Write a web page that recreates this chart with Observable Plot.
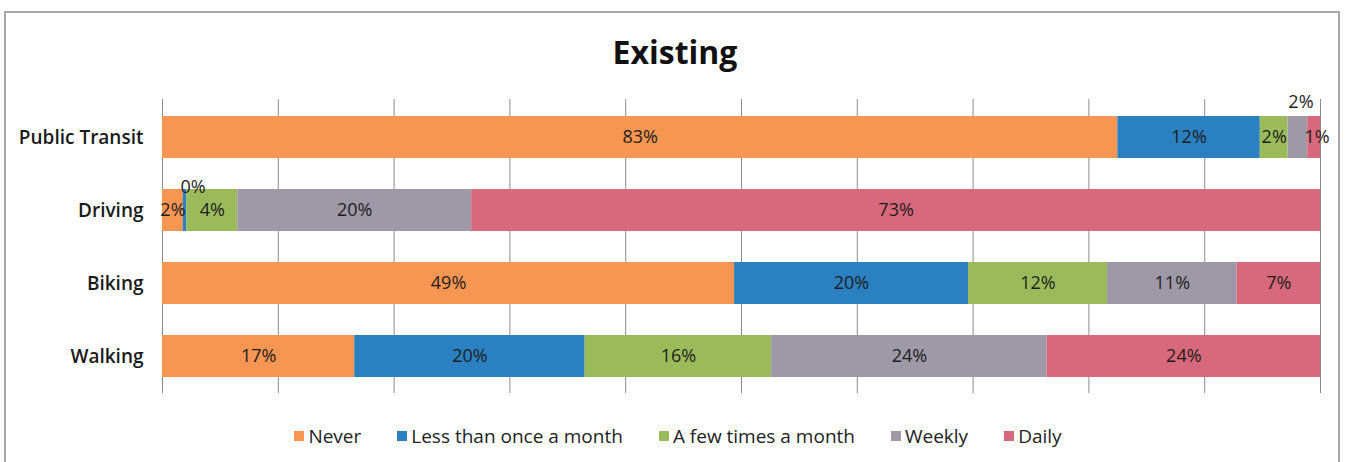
<!DOCTYPE html>
<html>
<head>
<meta charset="utf-8">
<script src="https://cdn.jsdelivr.net/npm/d3@7"></script>
<script src="https://cdn.jsdelivr.net/npm/@observablehq/plot@0.6"></script>
<style>
  html, body { margin: 0; padding: 0; background: #fff; width: 1345px; height: 462px; overflow: hidden; font-family: "Open Sans", sans-serif; }
  #frame { position: absolute; left: 4px; top: 11px; width: 1336px; height: 470px; border: 2px solid #a8a8a8; box-sizing: border-box; }
  #title { position: absolute; left: 0; top: 30px; width: 1350px; text-align: center; font-size: 32px; font-weight: 700; line-height: 44px; color: #111; }
  #chart { position: absolute; left: 0; top: 90px; }
  #legend { position: absolute; left: 0; top: 423px; width: 1356px; display: flex; justify-content: center; gap: 36px; font-size: 19px; line-height: 26px; color: #222; }
  .item { display: flex; align-items: center; }
  .sw { width: 10px; height: 10px; margin-right: 4px; }
</style>
</head>
<body>
<div id="frame"></div>
<div id="title">Existing</div>
<div id="chart"></div>
<div id="legend"></div>
<script>
const categories = ["Public Transit", "Driving", "Biking", "Walking"];
const series = ["Never", "Less than once a month", "A few times a month", "Weekly", "Daily"];
const colors = ["#f79552", "#2a80c0", "#9bbb5a", "#9f98a6", "#d8687b"];
const never = [82.5, 1.8, 49.4, 16.6];
const lessThanOnceAMonth = [12.3, 0.3, 20.2, 19.9];
const fewTimesAMonth = [2.4, 4.4, 12.0, 16.1];
const weekly = [1.7, 20.2, 11.2, 23.8];
const daily = [1.1, 73.3, 7.2, 23.6];
const xTicks = [0, 10, 20, 30, 40, 50, 60, 70, 80, 90, 100];

const bySeries = [never, lessThanOnceAMonth, fewTimesAMonth, weekly, daily];
const rows = categories.flatMap((c, i) => series.map((s, j) => ({category: c, series: s, value: bySeries[j][i]})));
const pct = d => Math.round(d.value) + "%";
const isA = d => d.category === "Public Transit" && d.series === "Weekly";
const isB = d => d.category === "Driving" && d.series === "Less than once a month";
const isC = d => d.category === "Public Transit" && d.series === "Daily";

const stackOpts = (text, extra = {}) => Plot.stackX({x: "value", y: "category", z: "series", text, ...extra});

const chart = Plot.plot({
  width: 1345,
  height: 320,
  marginLeft: 162,
  marginRight: 25,
  marginTop: 9,
  marginBottom: 17,
  style: {fontFamily: "Open Sans, sans-serif", background: "transparent"},
  x: {domain: [0, 100], axis: null},
  y: {domain: categories, paddingInner: 0.43, paddingOuter: 0.215, axis: null},
  color: {domain: series, range: colors},
  marks: [
    Plot.gridX(xTicks, {stroke: "#8a8a8a", strokeOpacity: 1, strokeWidth: 1}),
    Plot.barX(rows, Plot.stackX({x: "value", y: "category", fill: "series", z: "series"})),
    Plot.text(rows, stackOpts(d => (isA(d) || isB(d) || isC(d)) ? "" : pct(d), {fontSize: 18, fill: "#1e1e1e"})),
    Plot.text(rows, stackOpts(d => isA(d) ? pct(d) : "", {fontSize: 18, fill: "#1e1e1e", dx: 3, dy: -35})),
    Plot.text(rows, stackOpts(d => isB(d) ? pct(d) : "", {fontSize: 18, fill: "#1e1e1e", dx: 8, dy: -23})),
    Plot.text(rows, stackOpts(d => isC(d) ? pct(d) : "", {fontSize: 18, fill: "#1e1e1e", dx: 3})),
    Plot.axisY({tickSize: 0, tickPadding: 19, fontSize: 19, fontWeight: 600, fill: "#1a1a1a", label: null})
  ]
});
document.getElementById("chart").appendChild(chart);

const legend = document.getElementById("legend");
series.forEach((s, i) => {
  const it = document.createElement("div");
  it.className = "item";
  const sw = document.createElement("span");
  sw.className = "sw";
  sw.style.background = colors[i];
  const tx = document.createElement("span");
  tx.textContent = s;
  it.appendChild(sw);
  it.appendChild(tx);
  legend.appendChild(it);
});
</script>
</body>
</html>
